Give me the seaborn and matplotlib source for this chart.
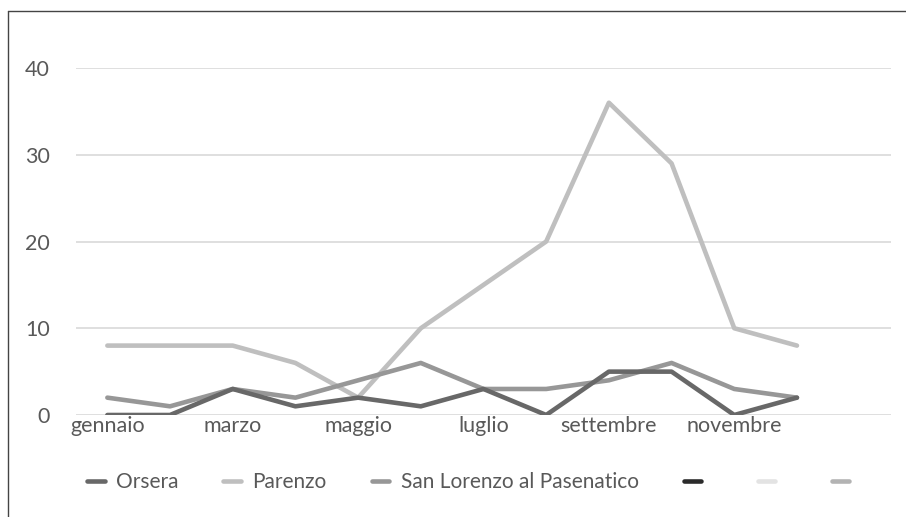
import matplotlib
matplotlib.use("Agg")
import matplotlib.pyplot as plt
from matplotlib.lines import Line2D
import pandas as pd
import seaborn as sns

months = ["gennaio", "febbraio", "marzo", "aprile", "maggio", "giugno",
          "luglio", "agosto", "settembre", "ottobre", "novembre", "dicembre"]
orsera = [0, 0, 3, 1, 2, 1, 3, 0, 5, 5, 0, 2]
parenzo = [8, 8, 8, 6, 2, 10, 15, 20, 36, 29, 10, 8]
san_lorenzo = [2, 1, 3, 2, 4, 6, 3, 3, 4, 6, 3, 2]
series_names = ["Orsera", "Parenzo", "San Lorenzo al Pasenatico"]
y_ticks = [0, 10, 20, 30, 40]

colors = {"Orsera": "#686868", "Parenzo": "#bfbfbf",
          "San Lorenzo al Pasenatico": "#979797"}
extra_colors = ["#2b2b2b", "#e3e3e3", "#b3b3b3"]

df = pd.DataFrame({
    "pos": list(range(len(months))) * 3,
    "valore": orsera + parenzo + san_lorenzo,
    "serie": [n for n in series_names for _ in months],
})

sns.set_theme(style="white")
plt.rcParams["font.family"] = ["Lato", "DejaVu Sans"]
text_color = "#595959"
fs = 15.5

fig = plt.figure(figsize=(9.06, 5.17), dpi=100)
fig.patch.set_facecolor("white")
ax = fig.add_axes([76 / 906, 1 - 415 / 517, 815 / 906, 347 / 517])

sns.lineplot(data=df, x="pos", y="valore", hue="serie", hue_order=series_names,
             palette=colors, sort=False, linewidth=3.3, ax=ax, legend=False)
# Orsera on top of the other two series
ax.lines[0].set_zorder(4)
for ln in ax.lines[1:]:
    ln.set_zorder(3)

ax.set_xlim(-0.5, 12.5)
ax.set_ylim(0, 40)
ax.set_xticks(range(0, 12, 2))
ax.set_xticklabels(months[0::2])
ax.set_yticks(y_ticks)
ax.set_yticklabels([str(v) for v in y_ticks])
ax.grid(axis="y", color="#d9d9d9", lw=1.2)
ax.grid(axis="x", visible=False)
ax.set_axisbelow(True)
ax.tick_params(axis="x", length=0, pad=1, labelsize=fs, colors=text_color)
ax.tick_params(axis="y", length=0, pad=19, labelsize=fs, colors=text_color)
ax.set_xlabel("")
ax.set_ylabel("")
for s in ax.spines.values():
    s.set_visible(False)
ax.set_facecolor("none")

handles = [Line2D([], [], color=colors[n], lw=3.3) for n in series_names]
handles += [Line2D([], [], color=c, lw=3.3) for c in extra_colors]
labels = series_names + ["", "", ""]
leg = fig.legend(handles, labels, loc="center left", ncol=6,
                 bbox_to_anchor=(87 / 906, 1 - 482 / 517), frameon=False,
                 fontsize=15, handlelength=0.85, handletextpad=0.55,
                 columnspacing=2.15, borderpad=0, borderaxespad=0)
for t in leg.get_texts():
    t.set_color(text_color)

# outer frame along the top and left edges
fig.add_artist(Line2D([8 / 906, 1], [1 - 11 / 517, 1 - 11 / 517],
                      transform=fig.transFigure, color="#444444", lw=1.0))
fig.add_artist(Line2D([8 / 906, 8 / 906], [0, 1 - 11 / 517],
                      transform=fig.transFigure, color="#444444", lw=1.0))

fig.savefig("out.png", dpi=100, facecolor="white")
